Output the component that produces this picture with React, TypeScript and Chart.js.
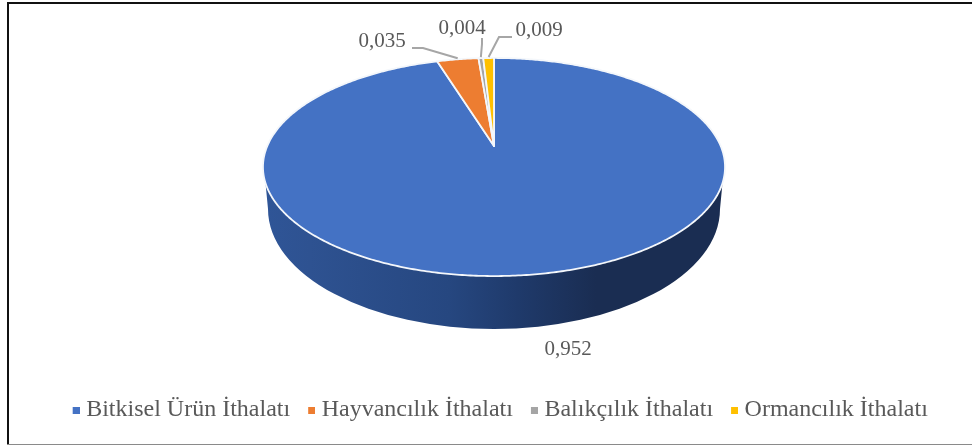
import React, { useEffect, useRef } from "react";
import { Chart, registerables } from "chart.js";

Chart.register(...registerables);

const categories = ["Bitkisel Ürün İthalatı", "Hayvancılık İthalatı", "Balıkçılık İthalatı", "Ormancılık İthalatı"];
const shares = [0.952, 0.035, 0.004, 0.009];
const valueTexts = ["0,952", "0,035", "0,004", "0,009"];
const colors = ["#4472c4", "#ed7d31", "#a5a5a5", "#ffc000"];

const FONT = '"Liberation Serif", serif';
const TEXT = "#595959";

// Perspective of the disc: apex, half-width term, half-height term, foreshortening
const PX = 494, PY = 146, PA = 226.7, PB = 105, PK = -0.1927;
const project = (a: number) => {
  const u = Math.cos(a), v = Math.sin(a), d = 1 + PK * v;
  return { x: PX + (PA * u) / d, y: PY + (PB * v) / d };
};

// Label placement, per slice: text centre, and leader polyline start and elbow
const labelLayout = [
  { tx: 568, ty: 349, leader: null },
  { tx: 382, ty: 41, leader: [[412, 48], [423, 48]] },
  { tx: 462, ty: 28, leader: [[482, 38], [482, 44]] },
  { tx: 539, ty: 30, leader: [[512, 37], [499, 37]] },
];

const pie3d = {
  id: "pie3d",
  beforeDatasetsDraw(chart: any) {
    const { ctx } = chart;
    const arcs = chart.getDatasetMeta(0).data;

    // wall
    const bx = 494, by = 209, brx = 226, bry = 120;
    const grad = ctx.createLinearGradient(264, 0, 725, 0);
    grad.addColorStop(0, "#2f5597");
    grad.addColorStop(0.1, "#2e5291");
    grad.addColorStop(0.4, "#264780");
    grad.addColorStop(0.55, "#1f3a6b");
    grad.addColorStop(0.72, "#1a2d52");
    grad.addColorStop(1, "#1a2d52");
    ctx.save();
    ctx.beginPath();
    ctx.moveTo(265.5, 183);
    ctx.lineTo(bx - brx, by);
    ctx.ellipse(bx, by, brx, bry, 0, Math.PI, 0, true);
    ctx.lineTo(722.5, 183);
    ctx.closePath();
    ctx.fillStyle = grad;
    ctx.fill();

    // top face, slices from the library's arc elements
    arcs.forEach((arc: any) => {
      const { startAngle, endAngle } = arc.getProps(["startAngle", "endAngle"], true);
      const steps = Math.max(4, Math.ceil((endAngle - startAngle) / 0.01));
      ctx.beginPath();
      ctx.moveTo(PX, PY);
      for (let i = 0; i <= steps; i++) {
        const p = project(startAngle + ((endAngle - startAngle) * i) / steps);
        ctx.lineTo(p.x, p.y);
      }
      ctx.closePath();
      ctx.fillStyle = arc.options.backgroundColor;
      ctx.fill();
      ctx.lineJoin = "round";
      ctx.lineWidth = arc.options.borderWidth;
      ctx.strokeStyle = arc.options.borderColor;
      ctx.stroke();
    });
    ctx.restore();
    return false;
  },
  afterDraw(chart: any) {
    const { ctx } = chart;
    const arcs = chart.getDatasetMeta(0).data;
    ctx.save();

    // leaders and value labels
    ctx.font = `21px ${FONT}`;
    ctx.textAlign = "center";
    ctx.textBaseline = "middle";
    arcs.forEach((arc: any, i: number) => {
      const { startAngle, endAngle } = arc.getProps(["startAngle", "endAngle"], true);
      const l = labelLayout[i];
      if (l.leader) {
        const end = project((startAngle + endAngle) / 2);
        ctx.beginPath();
        ctx.moveTo(l.leader[0][0], l.leader[0][1]);
        ctx.lineTo(l.leader[1][0], l.leader[1][1]);
        ctx.lineTo(end.x, end.y - 1);
        ctx.strokeStyle = "#a6a6a6";
        ctx.lineWidth = 2;
        ctx.stroke();
      }
      ctx.fillStyle = TEXT;
      ctx.fillText(valueTexts[i], l.tx, l.ty);
    });

    // frame
    ctx.fillStyle = "#111111";
    ctx.fillRect(7, 2, 965, 2);
    ctx.fillRect(7, 2, 2, 442);
    ctx.fillStyle = "#8a8a8a";
    ctx.fillRect(7, 444, 965, 1);
    ctx.restore();
  },
};

const swatch = (color: string) => {
  const c = document.createElement("canvas");
  c.width = 11;
  c.height = 7;
  const g = c.getContext("2d")!;
  g.fillStyle = color;
  g.fillRect(4, 0, 7, 7);
  return c;
};

export default function App() {
  const ref = useRef<HTMLCanvasElement>(null);
  useEffect(() => {
    const chart = new Chart(ref.current!, {
      type: "pie",
      data: {
        labels: categories,
        datasets: [{ data: shares, backgroundColor: colors, borderColor: "#f4f7fb", borderWidth: 1.8 }],
      },
      options: {
        responsive: false,
        animation: false,
        layout: { padding: { left: 30, bottom: 13 } },
        plugins: {
          tooltip: { enabled: false },
          legend: {
            position: "bottom",
            labels: {
              color: TEXT,
              font: { family: FONT, size: 24 },
              usePointStyle: true,
              pointStyleWidth: 0.01,
              boxHeight: 7,
              padding: 19.5,
              generateLabels: (c: any) =>
                (Chart as any).overrides.pie.plugins.legend.labels
                  .generateLabels(c)
                  .map((it: any, i: number) => ({ ...it, pointStyle: swatch(colors[i]) })),
            },
          },
        },
      },
      plugins: [pie3d],
    } as any);
    return () => chart.destroy();
  }, []);
  return (
    <canvas
      ref={ref}
      width={972}
      height={445}
      style={{ position: "fixed", left: 0, top: 0, width: 972, height: 445, background: "#fff" }}
    />
  );
}
